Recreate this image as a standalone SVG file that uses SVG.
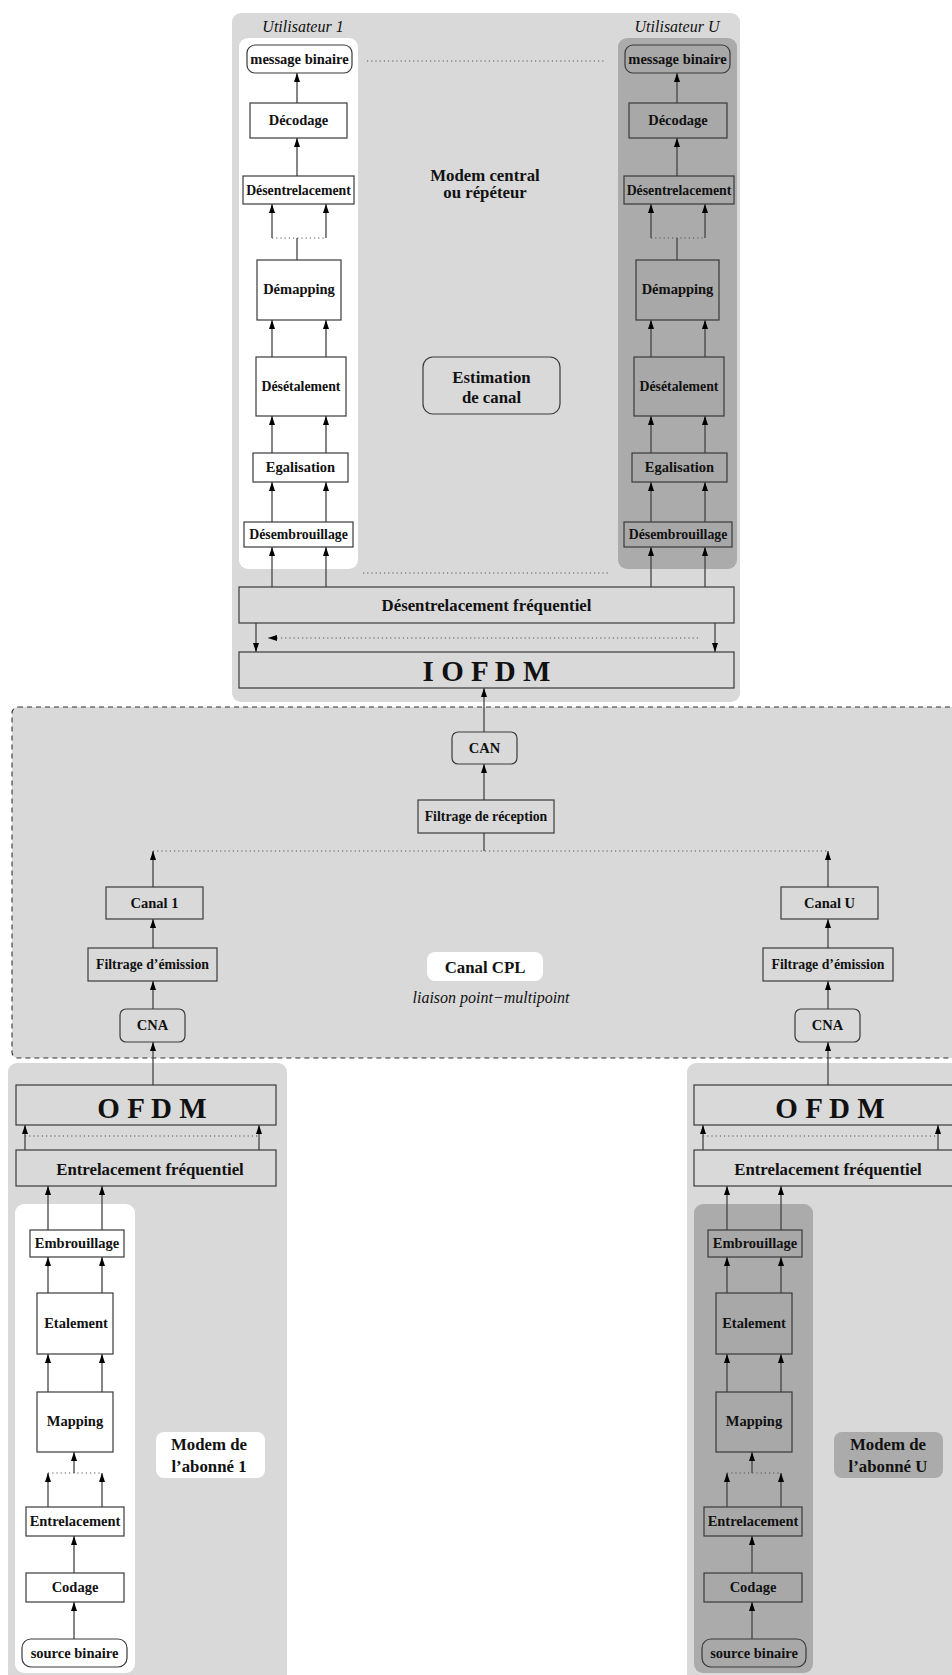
<svg xmlns="http://www.w3.org/2000/svg" width="952" height="1675" viewBox="0 0 952 1675">
<defs>
<marker id="ah" markerUnits="userSpaceOnUse" markerWidth="10" markerHeight="6" refX="9" refY="3" orient="auto">
<path d="M0,0 L9,3 L0,6 z" fill="#000"/>
</marker>
<style>
.pl{fill:#d9d9d9}
.pw{fill:#ffffff}
.pd{fill:#ababab}
.b{stroke:#3a3a3a;stroke-width:1.2}
.bl{fill:#d9d9d9}
.bw{fill:#ffffff}
.bd{fill:#a8a8a8}
text{font-family:"Liberation Serif","Times New Roman",serif;fill:#111}
.t{font-size:14.5px;font-weight:bold;text-anchor:middle}
.tn{font-size:13.8px}
.tb{font-size:16.8px;font-weight:bold;text-anchor:middle}
.tx{font-size:29px;font-weight:bold;text-anchor:middle}
.ti{font-size:16px;font-style:italic;text-anchor:middle}
.c{stroke:#444;stroke-width:1.3;fill:none}
.a{marker-end:url(#ah)}
.d{stroke:#555;stroke-width:1;stroke-dasharray:1.2 3;fill:none}
</style>
</defs>

<!-- panels -->
<g id="panels">
<rect class="pl" x="232" y="13" width="508" height="689" rx="9"/>
<rect class="pw" x="239" y="38" width="119" height="531" rx="9"/>
<rect class="pd" x="618" y="38" width="119" height="531" rx="9"/>
<rect class="pl" x="12" y="707" width="960" height="351" rx="6" stroke="#333" stroke-width="1.1" stroke-dasharray="5 4"/>
<rect class="pl" x="8" y="1063" width="279" height="640" rx="9"/>
<rect class="pl" x="687" y="1063" width="300" height="640" rx="9"/>
<rect class="pw" x="15" y="1204" width="120" height="469" rx="9"/>
<rect class="pd" x="694" y="1204" width="119" height="469" rx="9"/>
</g>

<g id="labels">
<text class="ti" x="303" y="32">Utilisateur 1</text>
<text class="ti" x="677" y="32">Utilisateur U</text>
<text class="tb" x="485" y="181">Modem central</text>
<text class="tb" x="485" y="198">ou répéteur</text>
<text class="ti" x="491" y="1003">liaison point−multipoint</text>
</g>

<!-- connectors -->
<g id="connectors">
<!-- central left column -->
<line class="c a" x1="297" y1="103" x2="297" y2="73"/>
<line class="c a" x1="297" y1="176" x2="297" y2="138"/>
<line class="c a" x1="272" y1="238" x2="272" y2="204"/>
<line class="c a" x1="326" y1="238" x2="326" y2="204"/>
<line class="d" x1="272" y1="238" x2="326" y2="238"/>
<line class="c" x1="297" y1="260" x2="297" y2="238"/>
<line class="c a" x1="272" y1="357" x2="272" y2="320"/>
<line class="c a" x1="326" y1="357" x2="326" y2="320"/>
<line class="c a" x1="272" y1="453" x2="272" y2="416"/>
<line class="c a" x1="326" y1="453" x2="326" y2="416"/>
<line class="c a" x1="272" y1="522" x2="272" y2="482"/>
<line class="c a" x1="326" y1="522" x2="326" y2="482"/>
<line class="c a" x1="272" y1="587" x2="272" y2="547"/>
<line class="c a" x1="326" y1="587" x2="326" y2="547"/>
<!-- central right column -->
<line class="c a" x1="677" y1="103" x2="677" y2="73"/>
<line class="c a" x1="677" y1="176" x2="677" y2="138"/>
<line class="c a" x1="651" y1="238" x2="651" y2="204"/>
<line class="c a" x1="705" y1="238" x2="705" y2="204"/>
<line class="d" x1="651" y1="238" x2="705" y2="238"/>
<line class="c" x1="677" y1="260" x2="677" y2="238"/>
<line class="c a" x1="651" y1="357" x2="651" y2="320"/>
<line class="c a" x1="705" y1="357" x2="705" y2="320"/>
<line class="c a" x1="651" y1="453" x2="651" y2="416"/>
<line class="c a" x1="705" y1="453" x2="705" y2="416"/>
<line class="c a" x1="651" y1="522" x2="651" y2="482"/>
<line class="c a" x1="705" y1="522" x2="705" y2="482"/>
<line class="c a" x1="651" y1="587" x2="651" y2="547"/>
<line class="c a" x1="705" y1="587" x2="705" y2="547"/>
<line class="d" x1="367" y1="61" x2="605" y2="61"/>
<line class="d" x1="363" y1="573" x2="610" y2="573"/>
<!-- desentrelacement freq -> IOFDM -->
<line class="c a" x1="256" y1="623" x2="256" y2="652"/>
<line class="c a" x1="715" y1="623" x2="715" y2="652"/>
<line class="d a" x1="698" y1="638" x2="268" y2="638"/>
<!-- channel -->
<line class="c a" x1="484" y1="732" x2="484" y2="688"/>
<line class="c a" x1="484" y1="800" x2="484" y2="764"/>
<line class="c" x1="484" y1="833" x2="484" y2="851"/>
<line class="d" x1="153" y1="851" x2="828" y2="851"/>
<line class="c a" x1="153" y1="887" x2="153" y2="851"/>
<line class="c a" x1="153" y1="948" x2="153" y2="919"/>
<line class="c a" x1="153" y1="1009" x2="153" y2="981"/>
<line class="c a" x1="153" y1="1085" x2="153" y2="1042"/>
<line class="c a" x1="828" y1="887" x2="828" y2="851"/>
<line class="c a" x1="828" y1="948" x2="828" y2="919"/>
<line class="c a" x1="828" y1="1009" x2="828" y2="981"/>
<line class="c a" x1="828" y1="1085" x2="828" y2="1042"/>
<!-- lower left -->
<line class="c a" x1="25" y1="1150" x2="25" y2="1125"/>
<line class="c a" x1="259" y1="1150" x2="259" y2="1125"/>
<line class="d" x1="25" y1="1136" x2="259" y2="1136"/>
<line class="c a" x1="48" y1="1230" x2="48" y2="1186"/>
<line class="c a" x1="102" y1="1230" x2="102" y2="1186"/>
<line class="c a" x1="48" y1="1293" x2="48" y2="1257"/>
<line class="c a" x1="102" y1="1293" x2="102" y2="1257"/>
<line class="c a" x1="48" y1="1392" x2="48" y2="1354"/>
<line class="c a" x1="102" y1="1392" x2="102" y2="1354"/>
<line class="c a" x1="74" y1="1473" x2="74" y2="1452"/>
<line class="d" x1="48" y1="1473" x2="102" y2="1473"/>
<line class="c a" x1="48" y1="1507" x2="48" y2="1473"/>
<line class="c a" x1="102" y1="1507" x2="102" y2="1473"/>
<line class="c a" x1="74" y1="1573" x2="74" y2="1536"/>
<line class="c a" x1="74" y1="1639" x2="74" y2="1602"/>
<!-- lower right -->
<line class="c a" x1="703" y1="1150" x2="703" y2="1125"/>
<line class="c a" x1="938" y1="1150" x2="938" y2="1125"/>
<line class="d" x1="703" y1="1136" x2="938" y2="1136"/>
<line class="c a" x1="727" y1="1230" x2="727" y2="1186"/>
<line class="c a" x1="781" y1="1230" x2="781" y2="1186"/>
<line class="c a" x1="727" y1="1293" x2="727" y2="1257"/>
<line class="c a" x1="781" y1="1293" x2="781" y2="1257"/>
<line class="c a" x1="727" y1="1392" x2="727" y2="1354"/>
<line class="c a" x1="781" y1="1392" x2="781" y2="1354"/>
<line class="c a" x1="752" y1="1473" x2="752" y2="1452"/>
<line class="d" x1="727" y1="1473" x2="781" y2="1473"/>
<line class="c a" x1="727" y1="1507" x2="727" y2="1473"/>
<line class="c a" x1="781" y1="1507" x2="781" y2="1473"/>
<line class="c a" x1="752" y1="1573" x2="752" y2="1536"/>
<line class="c a" x1="752" y1="1639" x2="752" y2="1602"/>
</g>

<!-- central modem, user 1 -->
<g id="msg1"><rect class="b bw" x="247" y="45" width="105" height="28" rx="8"/><text class="t" x="299.5" y="64">message binaire</text></g>
<g id="dec1"><rect class="b bw" x="250" y="103" width="97" height="35"/><text class="t" x="298.5" y="125">Décodage</text></g>
<g id="desent1"><rect class="b bw" x="243" y="176" width="111" height="28"/><text class="t tn" x="298.5" y="195">Désentrelacement</text></g>
<g id="demap1"><rect class="b bw" x="257" y="260" width="84" height="60"/><text class="t" x="299" y="294">Démapping</text></g>
<g id="desetal1"><rect class="b bw" x="256" y="357" width="90" height="59"/><text class="t tn" x="301" y="391">Désétalement</text></g>
<g id="egal1"><rect class="b bw" x="253" y="453" width="95" height="29"/><text class="t" x="300.5" y="472">Egalisation</text></g>
<g id="desemb1"><rect class="b bw" x="244" y="522" width="109" height="25"/><text class="t tn" x="298.5" y="539">Désembrouillage</text></g>

<!-- central modem, user U -->
<g id="msgU"><rect class="b bd" x="625" y="45" width="105" height="28" rx="8"/><text class="t" x="677.5" y="64">message binaire</text></g>
<g id="decU"><rect class="b bd" x="629" y="103" width="98" height="35"/><text class="t" x="678" y="125">Décodage</text></g>
<g id="desentU"><rect class="b bd" x="624" y="176" width="110" height="28"/><text class="t tn" x="679" y="195">Désentrelacement</text></g>
<g id="demapU"><rect class="b bd" x="636" y="260" width="83" height="60"/><text class="t" x="677.5" y="294">Démapping</text></g>
<g id="desetalU"><rect class="b bd" x="634" y="357" width="90" height="59"/><text class="t tn" x="679" y="391">Désétalement</text></g>
<g id="egalU"><rect class="b bd" x="632" y="453" width="95" height="29"/><text class="t" x="679.5" y="472">Egalisation</text></g>
<g id="desembU"><rect class="b bd" x="624" y="522" width="108" height="25"/><text class="t tn" x="678" y="539">Désembrouillage</text></g>

<g id="estim"><rect class="b bl" x="423" y="357" width="137" height="57" rx="10"/><text class="tb" x="491.5" y="383">Estimation</text><text class="tb" x="491.5" y="403">de canal</text></g>
<g id="desfreq"><rect class="b bl" x="239" y="587" width="495" height="36"/><text class="tb" x="486.5" y="611">Désentrelacement fréquentiel</text></g>
<g id="iofdm"><rect class="b bl" x="239" y="652" width="495" height="36"/><text class="tx" x="486.5" y="681">I O F D M</text></g>

<!-- channel -->
<g id="can"><rect class="b bl" x="452" y="732" width="65" height="32" rx="6"/><text class="t" x="484.5" y="753">CAN</text></g>
<g id="filtrec"><rect class="b bl" x="418" y="800" width="136" height="33"/><text class="t tn" x="486" y="821">Filtrage de réception</text></g>
<g id="canal1"><rect class="b bl" x="106" y="887" width="97" height="32"/><text class="t" x="154.5" y="908">Canal 1</text></g>
<g id="filtem1"><rect class="b bl" x="88" y="948" width="129" height="33"/><text class="t tn" x="152.5" y="969">Filtrage d’émission</text></g>
<g id="cna1"><rect class="b bl" x="120" y="1009" width="65" height="33" rx="6"/><text class="t" x="152.5" y="1030">CNA</text></g>
<g id="canalU"><rect class="b bl" x="781" y="887" width="97" height="32"/><text class="t" x="829.5" y="908">Canal U</text></g>
<g id="filtemU"><rect class="b bl" x="763" y="948" width="130" height="33"/><text class="t tn" x="828" y="969">Filtrage d’émission</text></g>
<g id="cnaU"><rect class="b bl" x="795" y="1009" width="65" height="33" rx="6"/><text class="t" x="827.5" y="1030">CNA</text></g>
<g id="canalcpl"><rect class="pw" x="427" y="952" width="116" height="29" rx="8"/><text class="tb" x="485" y="973">Canal CPL</text></g>

<!-- subscriber 1 -->
<g id="ofdm1"><rect class="b bl" x="16" y="1085" width="260" height="40"/><text class="tx" x="152" y="1118">O F D M</text></g>
<g id="entfreq1"><rect class="b bl" x="16" y="1150" width="260" height="36"/><text class="tb" x="150" y="1175">Entrelacement fréquentiel</text></g>
<g id="emb1"><rect class="b bw" x="30" y="1230" width="94" height="27"/><text class="t" x="77" y="1248">Embrouillage</text></g>
<g id="etal1"><rect class="b bw" x="37" y="1293" width="76" height="61"/><text class="t" x="76" y="1328">Etalement</text></g>
<g id="map1"><rect class="b bw" x="37" y="1392" width="76" height="60"/><text class="t" x="75" y="1426">Mapping</text></g>
<g id="entrel1"><rect class="b bw" x="26" y="1507" width="98" height="29"/><text class="t" x="75" y="1526">Entrelacement</text></g>
<g id="codage1"><rect class="b bw" x="26" y="1573" width="98" height="29"/><text class="t" x="75" y="1592">Codage</text></g>
<g id="src1"><rect class="b bw" x="22" y="1639" width="105" height="28" rx="9"/><text class="t" x="74.5" y="1658">source binaire</text></g>
<g id="modem1"><rect class="pw" x="156" y="1432" width="109" height="46" rx="8"/><text class="tb" x="209" y="1450">Modem de</text><text class="tb" x="209" y="1472">l’abonné 1</text></g>

<!-- subscriber U -->
<g id="ofdmU"><rect class="b bl" x="694" y="1085" width="262" height="40"/><text class="tx" x="830" y="1118">O F D M</text></g>
<g id="entfreqU"><rect class="b bl" x="694" y="1150" width="262" height="36"/><text class="tb" x="828" y="1175">Entrelacement fréquentiel</text></g>
<g id="embU"><rect class="b bd" x="708" y="1230" width="94" height="27"/><text class="t" x="755" y="1248">Embrouillage</text></g>
<g id="etalU"><rect class="b bd" x="716" y="1293" width="76" height="61"/><text class="t" x="754" y="1328">Etalement</text></g>
<g id="mapU"><rect class="b bd" x="716" y="1392" width="76" height="60"/><text class="t" x="754" y="1426">Mapping</text></g>
<g id="entrelU"><rect class="b bd" x="704" y="1507" width="98" height="29"/><text class="t" x="753" y="1526">Entrelacement</text></g>
<g id="codageU"><rect class="b bd" x="704" y="1573" width="98" height="29"/><text class="t" x="753" y="1592">Codage</text></g>
<g id="srcU"><rect class="b bd" x="702" y="1639" width="104" height="28" rx="9"/><text class="t" x="754" y="1658">source binaire</text></g>
<g id="modemU"><rect class="pd" x="834" y="1432" width="109" height="46" rx="8"/><text class="tb" x="888" y="1450">Modem de</text><text class="tb" x="888" y="1472">l’abonné U</text></g>
</svg>
